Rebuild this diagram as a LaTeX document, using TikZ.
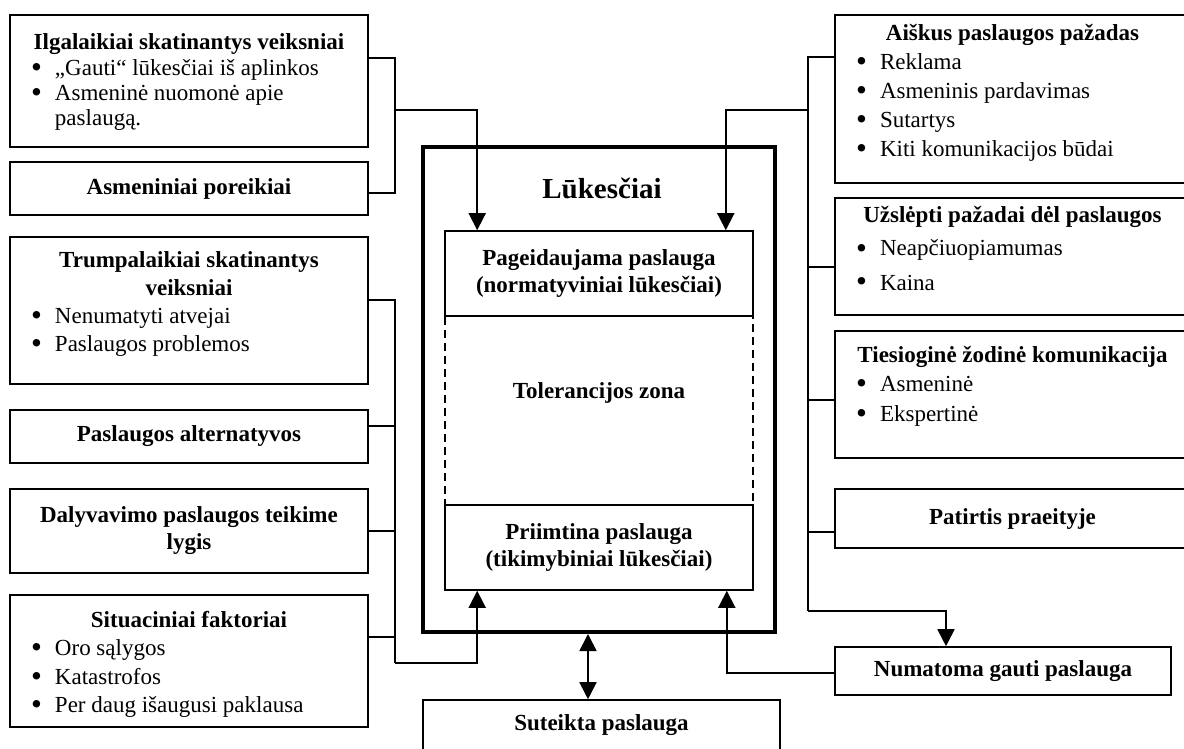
\documentclass[tikz,border=0pt]{standalone}
\usepackage{fontspec}
\setmainfont{Liberation Serif}
\usetikzlibrary{arrows.meta}

\newcommand{\boxfont}{\fontsize{11.5}{13.5}\selectfont}
% title line of a list box, first baseline #1 below the top
\newcommand{\ttl}[2]{{\centering\rule{0pt}{#1}\textbf{#2}\par}}
\newcommand{\itm}[1]{\par\noindent\hspace*{10.5pt}\makebox[12pt][l]{\raisebox{-1pt}[0pt][0pt]{\scalebox{1.35}{\textbullet}}}#1}
% height, width, line skip, content
\newcommand{\lst}[4]{\parbox[c][#1][t]{#2}{\fontsize{11.5}{#3}\selectfont #4}}

\begin{document}
\begin{tikzpicture}[x=0.5pt, y=-0.5pt,
  box/.style={draw, line width=0.8pt, inner sep=0pt, align=center, font=\boxfont\bfseries},
  lbox/.style={draw, line width=0.8pt, inner sep=0pt},
  zone/.style={draw, line width=0.8pt, dash pattern=on 4pt off 2.5pt},
  bigbox/.style={draw, line width=2pt},
  link/.style={line width=0.9pt},
  arr/.style={link, -{Triangle[length=8.5pt,width=8.5pt]}},
  arrs/.style={link, {Triangle[length=8.5pt,width=8.5pt]}-{Triangle[length=8.5pt,width=8.5pt]}}]
  \useasboundingbox (0,0) rectangle (1184,749);

  % Left column
  \node[lbox] (ilg) at (189,81) {\lst{66pt}{179pt}{12.6pt}{\ttl{17.5pt}{Ilgalaikiai skatinantys veiksniai}%
    \itm{„Gauti“ lūkesčiai iš aplinkos}\itm{Asmeninė nuomonė apie}\par\noindent\hspace*{22.5pt}paslaugą.}};
  \node[box, minimum width=179pt, minimum height=26.5pt] (asm) at (189,188.5) {Asmeniniai poreikiai};
  \node[lbox] (tru) at (189,310.5) {\lst{73.5pt}{179pt}{14pt}{\ttl{15pt}{Trumpalaikiai skatinantys\\veiksniai}%
    \itm{Nenumatyti atvejai}\itm{Paslaugos problemos}}};
  \node[box, minimum width=179pt, minimum height=26.5pt] (alt) at (189,436.5) {Paslaugos alternatyvos};
  \node[box, minimum width=179pt, minimum height=42pt] (dal) at (189,531) {Dalyvavimo paslaugos teikime\\lygis};
  \node[lbox] (sit) at (189,661) {\lst{66pt}{179pt}{14.25pt}{\ttl{16pt}{Situaciniai faktoriai}%
    \itm{Oro sąlygos}\itm{Katastrofos}\itm{Per daug išaugusi paklausa}}};

  % Expectations
  \node[bigbox, minimum width=176pt, minimum height=242.5pt] (luk) at (599,389.5) {};
  \node[font=\fontsize{14.5}{18}\selectfont\bfseries] (lukttl) at (602,188) {Lūkesčiai};
  \node[zone, minimum width=154pt, minimum height=94.5pt] (tol) at (599,410.5) {};
  \node[font=\boxfont\bfseries] (toltxt) at (599,393) {Tolerancijos zona};
  \node[box, minimum width=154pt, minimum height=42.5pt] (pag) at (599,273.5) {Pageidaujama paslauga\\(normatyviniai lūkesčiai)};
  \node[box, minimum width=154pt, minimum height=42.5pt] (pri) at (599,547.5) {Priimtina paslauga\\(tikimybiniai lūkesčiai)};
  \node[box, minimum width=178.5pt, minimum height=25pt] (sut) at (601.5,725) {Suteikta paslauga};

  % Right column
  \node[lbox] (aisk) at (1012.5,99) {\lst{84pt}{177.5pt}{14.5pt}{\ttl{13pt}{Aiškus paslaugos pažadas}%
    \itm{Reklama}\itm{Asmeninis pardavimas}\itm{Sutartys}\itm{Kiti komunikacijos būdai}}};
  \node[lbox] (uzs) at (1012.5,256.5) {\lst{58.5pt}{177.5pt}{17pt}{\ttl{12pt}{Užslėpti pažadai dėl paslaugos}%
    \itm{Neapčiuopiamumas}\itm{Kaina}}};
  \node[lbox] (tie) at (1012.5,394.5) {\lst{63.5pt}{177.5pt}{14.75pt}{\ttl{15.5pt}{Tiesioginė žodinė komunikacija}%
    \itm{Asmeninė}\itm{Ekspertinė}}};
  \node[box, minimum width=177.5pt, minimum height=29.5pt] (pat) at (1012.5,518.5) {Patirtis praeityje};
  \node[box, minimum width=168pt, minimum height=24pt] (num) at (1003,671) {Numatoma gauti paslauga};

  % Junctions
  \coordinate (jtop) at (395,110);
  \coordinate (jbot) at (395,663);
  \coordinate (jrt) at (808,110);
  \coordinate (jrb) at (808,611);

  % Connectors left
  \draw[link] ([yshift=11.5pt]ilg.east) -| (jtop);
  \draw[link] ([yshift=-2.25pt]asm.east) -| (jtop);
  \draw[arr] (jtop) -| ([xshift=16.5pt]pag.north west);
  \draw[link] ([yshift=5.25pt]tru.east) -| (jbot);
  \draw[link] ([yshift=5.25pt]alt.east) -| (jbot);
  \draw[link] (dal.east) -| (jbot);
  \draw[link] ([yshift=12pt]sit.east) -| (jbot);
  \draw[arr] (jbot) -| ([xshift=16.5pt]pri.south west);

  % Connectors right
  \draw[link] ([yshift=21pt]aisk.west) -| (jrb);
  \draw[link] ([yshift=-5.25pt]uzs.west) -| (jrb);
  \draw[link] ([yshift=-2.75pt]tie.west) -| (jrb);
  \draw[link] ([yshift=-6.75pt]pat.west) -| (jrb);
  \draw[arr] (jrt) -| ([xshift=-14pt]pag.north east);
  \draw[arr] (jrb) -| ([xshift=-28.5pt]num.north);
  \draw[arr] ([yshift=-1pt]num.west) -| ([xshift=-13.5pt]pri.south east);

  % Delivered service
  \draw[arrs] ([xshift=-5.5pt]luk.south) -- ([xshift=-6.75pt]sut.north);
\end{tikzpicture}
\end{document}
